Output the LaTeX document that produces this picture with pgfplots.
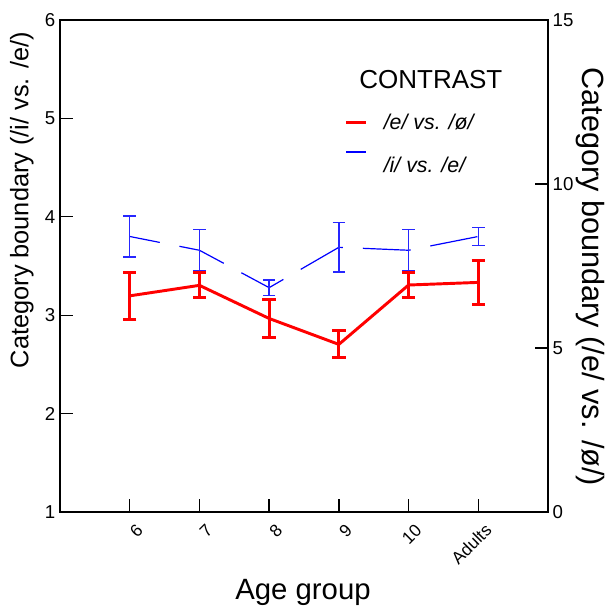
\documentclass[border=0pt]{standalone}
\usepackage{fontspec}
\setmainfont{Liberation Sans}
\usepackage{pgfplots}
\pgfplotsset{compat=1.18}
\usetikzlibrary{calc}

\begin{document}
\begin{tikzpicture}
\begin{axis}[
    name=main,
    scale only axis,
    width=366pt, height=369pt,
    xmin=-1, xmax=6, ymin=1, ymax=6,
    xtick={0,...,5},
    xticklabels={6,7,8,9,10,Adults},
    ytick={1,...,6},
    xtick pos=bottom, ytick pos=left,
    tick align=inside,
    major tick length=10pt,
    axis line style={line width=1pt},
    tick style={line width=1pt, black},
    /pgf/number format/assume math mode=true,
    yticklabel style={font=\fontsize{14}{16}\selectfont},
    xticklabel style={font=\fontsize{13}{15}\selectfont, xshift=10pt, yshift=-9pt, rotate=45, anchor=east},
    xlabel={Age group},
    xlabel style={font=\fontsize{22}{26}\selectfont, at={(axis description cs:0.498,-0.163)}, anchor=center},
    ylabel={Category boundary (/i/ vs. /e/)},
    ylabel style={font=\fontsize{19}{22}\selectfont, at={(axis description cs:-0.078,0.634)}, anchor=center},
]
% /i/ vs. /e/ on the left scale
\addplot[blue, line width=0.9pt, dash pattern=on 36pt off 15pt, dash phase=13pt,
    error bars/.cd, y dir=both, y explicit,
    error mark=-,
    error bar style={solid, line width=1.1pt, blue!85},
    error mark options={rotate=90, solid, line width=1.1pt, blue!85, mark size=4.7pt}]
coordinates {
    (0,3.80) +- (0,0.21)
    (1,3.66) +- (0,0.21)
    (2,3.28) +- (0,0.08)
    (3,3.69) +- (0,0.25)
    (4,3.66) +- (0,0.21)
    (5,3.80) +- (0,0.09)
};
\end{axis}

\begin{axis}[
    scale only axis,
    width=366pt, height=369pt,
    xmin=-1, xmax=6, ymin=0, ymax=15,
    axis x line=none,
    axis y line*=right,
    ytick={0,5,10,15},
    tick align=inside,
    major tick length=10pt,
    axis line style={line width=1pt, -},
    tick style={line width=1pt, black},
    /pgf/number format/assume math mode=true,
    yticklabel style={font=\fontsize{14}{16}\selectfont},
    ylabel={Category boundary (/e/ vs. /ø/)},
    ylabel style={font=\fontsize{23}{26}\selectfont, at={(axis description cs:1.086,0.478)}, anchor=center, rotate=180},
    legend style={draw=none, fill=none, at={(axis description cs:0.575,0.82)}, anchor=north west,
        font=\fontsize{16}{19}\itshape\selectfont, row sep=5pt},
    legend cell align=left,
    legend image code/.code={\draw[#1] (0pt,0pt) -- (15pt,0pt); \path (25pt,0pt);},
]
% /e/ vs. /ø/ on the right scale
\addplot[red, line width=2.2pt,
    error bars/.cd, y dir=both, y explicit,
    error mark=-,
    error bar style={line width=2.2pt, red},
    error mark options={rotate=90, line width=2.2pt, red, mark size=5pt}]
coordinates {
    (0,6.59) +- (0,0.72)
    (1,6.91) +- (0,0.38)
    (2,5.90) +- (0,0.58)
    (3,5.11) +- (0,0.41)
    (4,6.92) +- (0,0.39)
    (5,7.00) +- (0,0.67)
};
\addlegendentry{/e/ vs. /ø/}
\addlegendimage{draw=blue, line width=1.4pt, solid}
\addlegendentry{\raisebox{-10pt}[\height][\depth]{/i/ vs. /e/}}
\node[font=\fontsize{19.5}{22}\selectfont] at (axis description cs:0.760,0.878) {CONTRAST};
\end{axis}

\pgfresetboundingbox
\path[use as bounding box] ($(main.south west)+(-45pt,-73.5pt)$) rectangle ($(main.north east)+(46.5pt,15pt)$);
\end{tikzpicture}
\end{document}
